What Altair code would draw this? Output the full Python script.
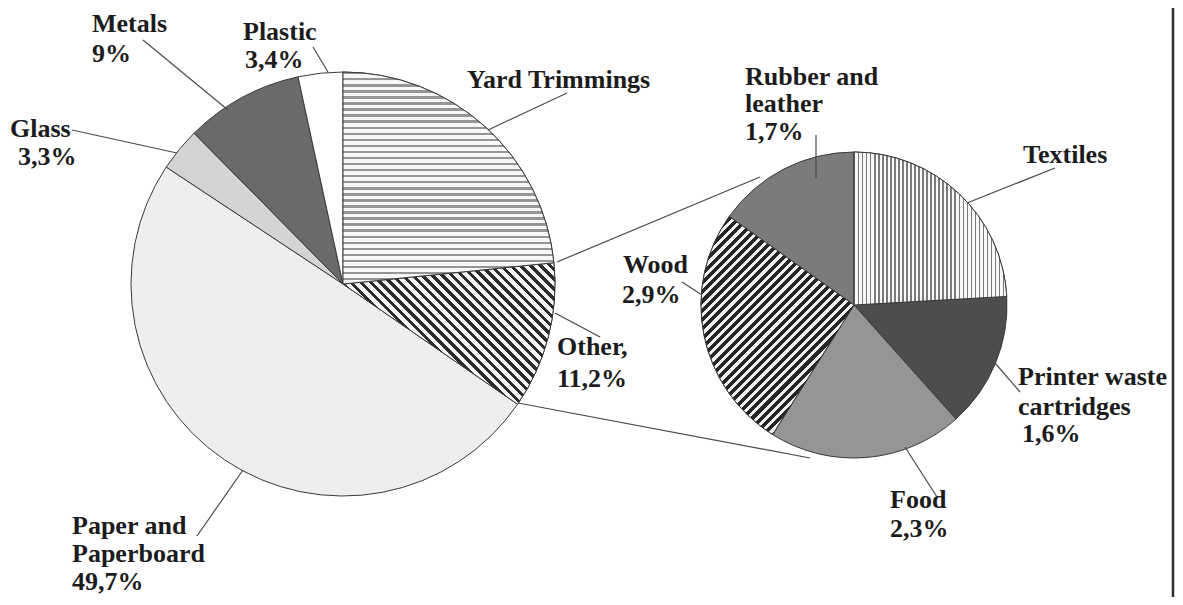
import math
import altair as alt
import pandas as pd

# ---------------- data ----------------
main_cats = ["Yard Trimmings", "Other", "Paper and Paperboard", "Glass", "Metals", "Plastic"]
main_vals = [23.4, 11.2, 49.7, 3.3, 9.0, 3.4]

sub_cats = ["Textiles", "Printer waste cartridges", "Food", "Wood", "Rubber and leather"]
sub_vals = [2.7, 1.6, 2.3, 2.9, 1.7]

label_text = ["Metals", "9%", "Plastic", "3,4%", "Glass", "3,3%", "Yard Trimmings",
              "Other,", "11,2%", "Paper and", "Paperboard", "49,7%",
              "Rubber and", "leather", "1,7%", "Wood", "2,9%", "Textiles",
              "Printer waste", "cartridges", "1,6%", "Food", "2,3%"]

# ---------------- layout (page pixels) ----------------
W, H = 1167, 589
MAIN_CX, MAIN_CY, MAIN_R = 343, 284, 212
SUB_CX, SUB_CY, SUB_R = 854, 305, 153

label_x = [92, 92, 243, 245, 10, 18, 467, 557, 557, 72, 72, 72,
           745, 745, 745, 623, 622, 1023, 1018, 1018, 1022, 890, 890]
label_y = [32, 62, 40, 68, 137, 165, 88, 355, 387, 534, 562, 590,
           85, 112, 140, 273, 303, 163, 385, 415, 442, 508, 537]

leader_x1 = [143, 313, 72, 567, 600, 197, 816, 682, 1055, 1020, 905, 557, 518]
leader_y1 = [40, 47, 130, 93, 337, 536, 135, 282, 168, 392, 447, 262, 403]
leader_x2 = [228, 328, 177, 488, 555, 243, 816, 702, 967, 995, 937, 760, 810]
leader_y2 = [110, 72, 153, 130, 313, 470, 178, 295, 203, 363, 497, 177, 458]

flat_colors = {
    "Yard Trimmings": "#c2c2c2",
    "Other": "#8a8a8a",
    "Paper and Paperboard": "#eeeeee",
    "Glass": "#d4d4d4",
    "Metals": "#6a6a6a",
    "Plastic": "#ffffff",
    "Textiles": "#d6d6d6",
    "Printer waste cartridges": "#4d4d4d",
    "Food": "#959595",
    "Wood": "#5a5a5a",
    "Rubber and leather": "#7b7b7b",
}

FONT = "Liberation Serif"

main_df = pd.DataFrame({"cat": main_cats, "val": main_vals, "ord": range(len(main_cats))})
sub_df = pd.DataFrame({"cat": sub_cats, "val": sub_vals, "ord": range(len(sub_cats))})
labels_df = pd.DataFrame({"t": label_text, "x": label_x, "y": label_y})
leaders_df = pd.DataFrame({"x": leader_x1, "y": leader_y1, "x2": leader_x2, "y2": leader_y2})

xs = alt.Scale(domain=[8, 8 + W], range=[0, W])
ys = alt.Scale(domain=[8 + H, 8])

theta_scale = alt.Scale(domain=[0, 1], range=[0, 2 * math.pi])


def slice_bbox(cx, cy, r, vals, i):
    tot = sum(vals)
    a0 = 2 * math.pi * sum(vals[:i]) / tot
    a1 = 2 * math.pi * sum(vals[:i + 1]) / tot
    pts = [(cx, cy)]
    for a in (a0, a1):
        pts.append((cx + r * math.sin(a), cy - r * math.cos(a)))
    for k in range(5):
        a = k * math.pi / 2
        if a0 < a < a1:
            pts.append((cx + r * math.sin(a), cy - r * math.cos(a)))
    px = [p[0] for p in pts]
    py = [p[1] for p in pts]
    return max(px) - min(px), max(py) - min(py)


def stripes(w, h, normal_deg, period, dark, light, frac):
    dx = math.cos(math.radians(normal_deg))
    dy = math.sin(math.radians(normal_deg))
    v0 = (dx * w, dy * h)
    proj = [u * v0[0] + v * v0[1] for u in (0, 1) for v in (0, 1)]
    pmin, pmax = min(proj), max(proj)
    e = pmax - pmin
    n0 = v0[0] ** 2 + v0[1] ** 2
    k = e / n0
    t = pmin / n0
    x1, y1 = t * v0[0], t * v0[1]
    x2, y2 = x1 + k * v0[0], y1 + k * v0[1]
    n = max(1, int(round(e / period)))
    stops = []
    for j in range(n):
        s = j / n
        m = (j + frac) / n
        en = (j + 1) / n
        stops += [{"offset": s, "color": dark}, {"offset": m, "color": dark},
                  {"offset": m, "color": light}, {"offset": en, "color": light}]
    return {"gradient": "linear", "x1": x1, "y1": y1, "x2": x2, "y2": y2, "stops": stops}


def base_pie(df):
    return (alt.Chart(df)
            .transform_window(cum="sum(val)", sort=[alt.SortField("ord")])
            .transform_joinaggregate(total="sum(val)")
            .transform_calculate(t0="(datum.cum - datum.val) / datum.total",
                                 t1="datum.cum / datum.total"))


def pie_enc(cx, cy):
    return dict(theta=alt.Theta("t0:Q", scale=theta_scale),
                theta2=alt.Theta2("t1:Q"),
                x=alt.value(cx - 8), y=alt.value(cy - 8))


all_cats = main_cats + sub_cats
color_scale = alt.Scale(domain=all_cats, range=[flat_colors[c] for c in all_cats])

layers = []
# flat slices
for df, cx, cy, r in ((main_df, MAIN_CX, MAIN_CY, MAIN_R), (sub_df, SUB_CX, SUB_CY, SUB_R)):
    layers.append(base_pie(df).mark_arc(outerRadius=r, stroke="#3a3a3a", strokeWidth=1).encode(
        color=alt.Color("cat:N", scale=color_scale, legend=None), **pie_enc(cx, cy)))

# striped slices (patterned fills approximated by linear gradients)
pattern_specs = [
    (main_df, main_cats, main_vals, MAIN_CX, MAIN_CY, MAIN_R, "Other", -45, 7, "#2b2b2b", "#f4f4f4", 0.45),
    (main_df, main_cats, main_vals, MAIN_CX, MAIN_CY, MAIN_R, "Yard Trimmings", 90, 6, "#959595", "#f7f7f7", 0.4),
    (sub_df, sub_cats, sub_vals, SUB_CX, SUB_CY, SUB_R, "Wood", 45, 6.5, "#262626", "#f0f0f0", 0.55),
    (sub_df, sub_cats, sub_vals, SUB_CX, SUB_CY, SUB_R, "Textiles", 0, 4, "#7a7a7a", "#f8f8f8", 0.35),
]
for df, cats, vals, cx, cy, r, cat, ang, per, dk, lt, fr in pattern_specs:
    w, h = slice_bbox(cx, cy, r, vals, cats.index(cat))
    grad = stripes(w, h, ang, per, dk, lt, fr)
    layers.append(base_pie(df).transform_filter(alt.datum.cat == cat)
                  .mark_arc(outerRadius=r, fill=grad, stroke="#3a3a3a", strokeWidth=1)
                  .encode(**pie_enc(cx, cy)))

leaders = alt.Chart(leaders_df).mark_rule(color="#4a4a4a", strokeWidth=1.2).encode(
    x=alt.X("x:Q", scale=xs, axis=None), y=alt.Y("y:Q", scale=ys, axis=None),
    x2="x2:Q", y2="y2:Q")

labels = alt.Chart(labels_df).mark_text(
    font=FONT, fontWeight="bold", fontSize=26, align="left", baseline="alphabetic",
    color="#1c1c1c").encode(
    x=alt.X("x:Q", scale=xs, axis=None), y=alt.Y("y:Q", scale=ys, axis=None), text="t:N")

border = alt.Chart(pd.DataFrame({"k": [0]})).mark_rule(color="#2e2e2e", strokeWidth=2.5).encode(
    x=alt.value(1173 - 8), y=alt.value(0), y2=alt.value(H))

chart = alt.layer(*layers, leaders, labels, border).properties(
    width=W, height=H, padding=0, autosize=alt.AutoSizeParams(type="none")
).configure_view(stroke="transparent")

chart.save("out.html", embed_options={"renderer": "svg", "actions": False})
